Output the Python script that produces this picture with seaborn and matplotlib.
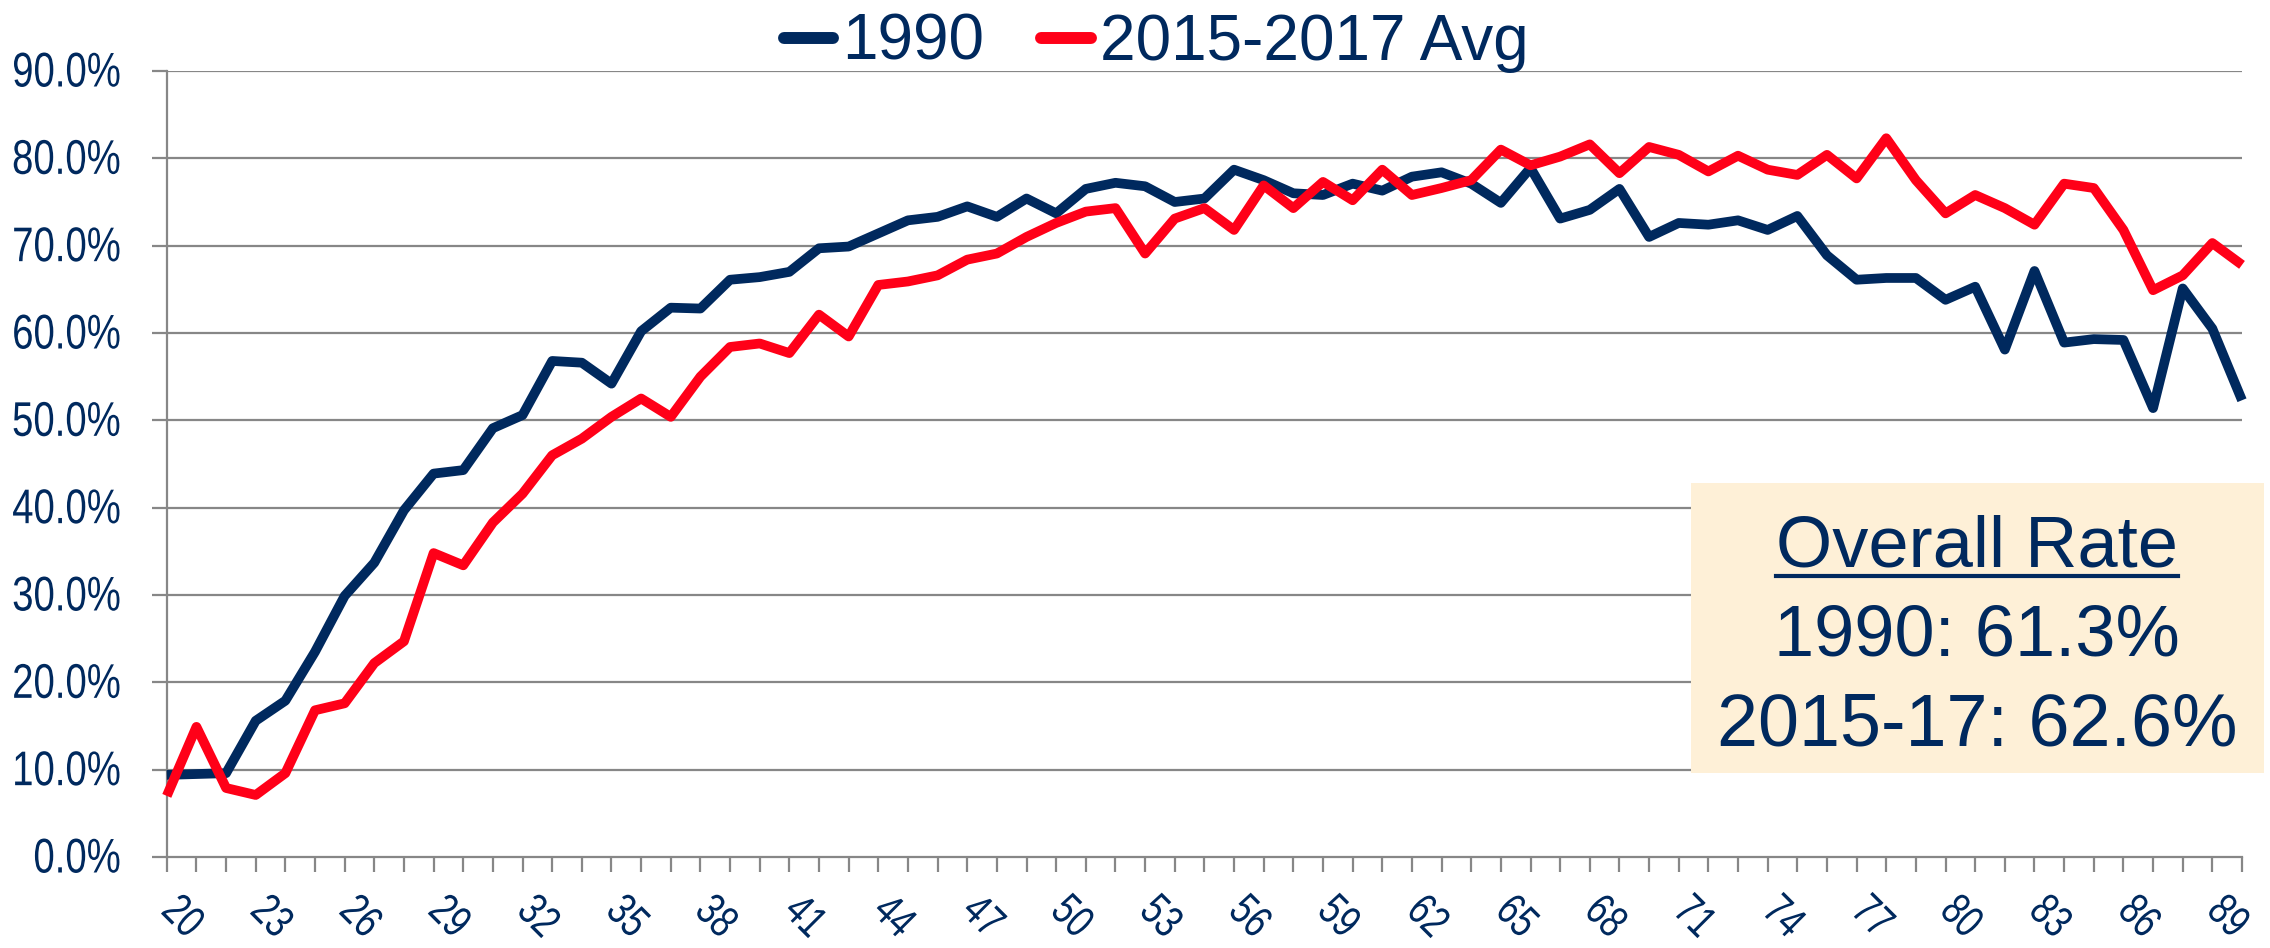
import matplotlib
matplotlib.use("Agg")
import matplotlib.pyplot as plt
from matplotlib import font_manager as fm
from matplotlib.lines import Line2D
from matplotlib.patches import Rectangle
from matplotlib.patheffects import AbstractPathEffect
from matplotlib.transforms import Affine2D
import seaborn as sns
import pandas as pd

# ---------------- data ----------------
ages = list(range(20, 91))
rate_1990 = [9.4, 9.5, 9.6, 15.6, 17.9, 23.5, 29.9, 33.7, 39.7, 43.9,
             44.3, 49.1, 50.6, 56.8, 56.6, 54.2, 60.2, 62.9, 62.8, 66.1,
             66.4, 67.0, 69.7, 69.9, 71.4, 72.9, 73.3, 74.5, 73.3, 75.4,
             73.7, 76.5, 77.2, 76.8, 75.0, 75.4, 78.7, 77.5, 76.0, 75.8,
             77.1, 76.3, 77.9, 78.4, 77.1, 74.9, 78.9, 73.1, 74.1, 76.5,
             71.0, 72.6, 72.4, 72.9, 71.8, 73.4, 68.9, 66.1, 66.3, 66.3,
             63.8, 65.3, 58.1, 67.1, 58.9, 59.3, 59.2, 51.4, 65.1, 60.5,
             52.3]
rate_2015_17 = [7.0, 14.9, 7.9, 7.1, 9.6, 16.8, 17.6, 22.2, 24.7, 34.8,
                33.4, 38.3, 41.6, 46.0, 47.9, 50.4, 52.5, 50.4, 55.0, 58.4,
                58.8, 57.7, 62.1, 59.6, 65.5, 65.9, 66.6, 68.4, 69.1, 71.0,
                72.6, 73.9, 74.3, 69.1, 73.1, 74.3, 71.8, 76.9, 74.3, 77.3,
                75.2, 78.7, 75.8, 76.6, 77.5, 81.0, 79.2, 80.2, 81.6, 78.3,
                81.3, 80.4, 78.5, 80.3, 78.7, 78.1, 80.4, 77.7, 82.3, 77.5,
                73.7, 75.8, 74.3, 72.4, 77.1, 76.6, 71.8, 64.9, 66.6, 70.3,
                67.8]
series_names = ["1990", "2015-2017 Avg"]
y_ticks = [0, 10, 20, 30, 40, 50, 60, 70, 80, 90]
box_title = "Overall Rate"
box_lines = ["1990: 61.3%", "2015-17: 62.6%"]

NAVY = "#00295E"
RED = "#FF0018"
GRID = "#878787"
BOX = "#FEF0D7"


class Squeeze(AbstractPathEffect):
    """Draw text condensed horizontally (emulates a 'Narrow' face)."""

    def __init__(self, sx, sy=1.0, anchor="left"):
        super().__init__()
        self.sx = sx
        self.sy = sy
        self.anchor = anchor

    def draw_path(self, renderer, gc, tpath, affine, rgbFace=None):
        xs = tpath.vertices[:, 0]
        x0 = xs.max() if (self.anchor == "right" and len(xs)) else 0.0
        t = (Affine2D().translate(-x0, 0).scale(self.sx, self.sy)
             .translate(x0, 0) + affine)
        renderer.draw_path(gc, tpath, t, rgbFace)


# ---------------- fonts ----------------
narrow = None
for name in ["Liberation Sans Narrow", "Arial Narrow"]:
    try:
        fm.findfont(fm.FontProperties(family=name), fallback_to_default=False)
        narrow = name
        break
    except Exception:
        pass
tick_family = narrow if narrow else "Liberation Sans"
if narrow:
    ysize, ysx, ysy = 35, 1.0, 1.0
    xsize, xsx, xsy = 28, 1.05, 1.15
else:
    ysize, ysx, ysy = 31, 0.89, 1.13
    xsize, xsx, xsy = 28, 0.88, 1.15

plt.rcParams["font.family"] = ["Liberation Sans", "DejaVu Sans"]

df = pd.DataFrame({
    "age": ages * 2,
    "rate": rate_1990 + rate_2015_17,
    "series": [series_names[0]] * len(ages) + [series_names[1]] * len(ages),
})

W, H = 2270, 948
fig = plt.figure(figsize=(W / 100, H / 100), dpi=100)
ax = fig.add_axes([166.8 / W, 1 - 857 / H, (2242 - 166.8) / W, (857 - 71) / H])

sns.lineplot(data=df, x="age", y="rate", hue="series",
             palette={series_names[0]: NAVY, series_names[1]: RED},
             linewidth=7.0, sort=False, ax=ax, legend=False)
for ln in ax.lines:
    ln.set_solid_joinstyle("round")
    ln.set_solid_capstyle("butt")
    ln.set_clip_on(False)

ax.set_xlim(20, 90)
ax.set_ylim(0, 90)
ax.set_xlabel("")
ax.set_ylabel("")

ax.set_yticks(y_ticks)
ax.set_yticklabels([f"{v:.1f}%" for v in y_ticks])
ax.set_xticks(ages)
ax.set_xticklabels([str(a) if (a - 20) % 3 == 0 else "" for a in ages])

ax.grid(False)
for v in y_ticks[1:]:
    ax.axhline(v, color=GRID, lw=1.6, zorder=0.5)

for s in ["top", "right"]:
    ax.spines[s].set_visible(False)
for s in ["left", "bottom"]:
    ax.spines[s].set_color(GRID)
    ax.spines[s].set_linewidth(1.6)
    ax.spines[s].set_zorder(0.6)

ax.tick_params(axis="y", length=10.8, width=1.6, color=GRID, pad=22.5,
               labelsize=ysize, labelcolor=NAVY)
ax.tick_params(axis="x", length=10.8, width=1.6, color=GRID, pad=24,
               labelsize=xsize, labelcolor=NAVY)
for t in ax.get_yticklabels():
    t.set_family(tick_family)
    t.set_path_effects([Squeeze(ysx, ysy, "right")])
for t in ax.get_xticklabels():
    t.set_family(tick_family)
    t.set_rotation(-45)
    t.set_rotation_mode("anchor")
    t.set_ha("left")
    t.set_va("center")
    t.set_path_effects([Squeeze(xsx, xsy, "left")])

# ---------------- legend ----------------
handles = [Line2D([], [], color=NAVY, lw=8.6, solid_capstyle="round"),
           Line2D([], [], color=RED, lw=8.6, solid_capstyle="round")]
fig.legend(handles, series_names, loc="center",
           bbox_to_anchor=(1156 / W, 1 - 43 / H), ncol=2, frameon=False,
           fontsize=46, handlelength=0.77, handletextpad=0.14,
           columnspacing=0.9, labelcolor=NAVY, borderpad=0)

# ---------------- annotation box ----------------
fig.patches.append(Rectangle((1690.6 / W, 1 - 773 / H),
                             (2263.8 - 1690.6) / W, (773 - 483) / H,
                             transform=fig.transFigure, facecolor=BOX,
                             edgecolor="none", zorder=5))
cx = 1977 / W
t_title = fig.text(cx, 1 - 566.7 / H, box_title, ha="center", va="baseline",
                   fontsize=52, color=NAVY, zorder=6)
fig.text(cx, 1 - 655 / H, box_lines[0], ha="center", va="baseline",
         fontsize=52, color=NAVY, zorder=6)
fig.text(cx, 1 - 745 / H, box_lines[1], ha="center", va="baseline",
         fontsize=53, color=NAVY, zorder=6)

fig.canvas.draw()
bb = t_title.get_window_extent()
uy = 1 - 576 / H
fig.add_artist(Line2D([bb.x0 / W, bb.x1 / W], [uy, uy], transform=fig.transFigure,
                      color=NAVY, lw=3.0, zorder=6))

fig.savefig("out.png", dpi=100)
